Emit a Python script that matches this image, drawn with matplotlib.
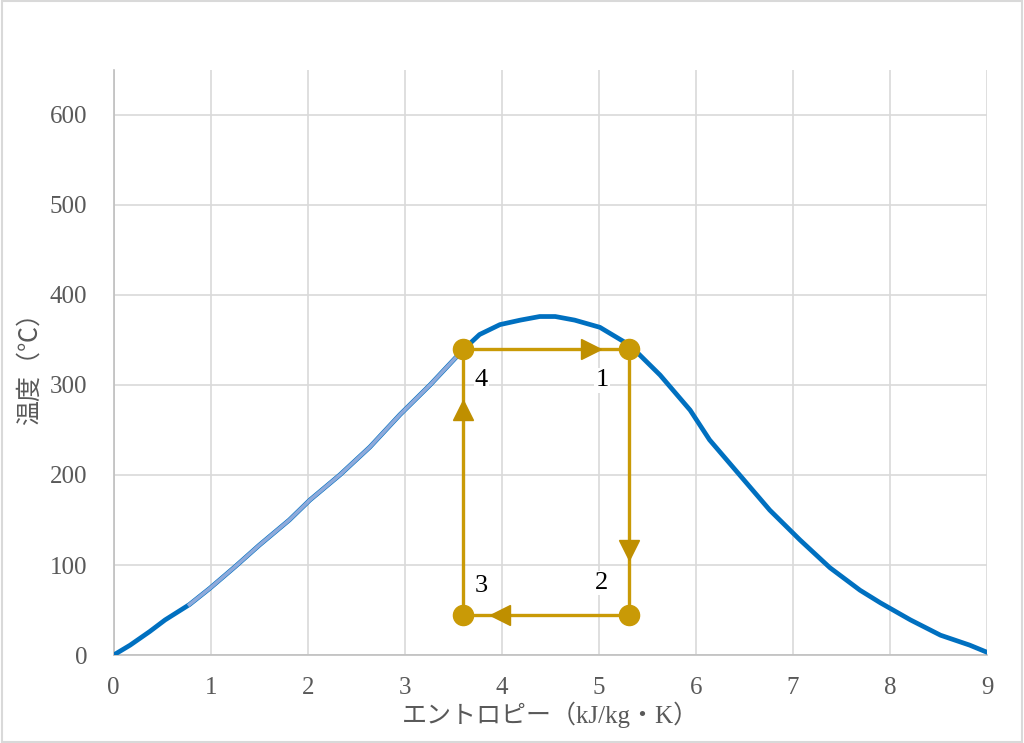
import numpy as np
import matplotlib.pyplot as plt
from matplotlib.patches import Rectangle

# saturation curve (entropy kJ/kgK, temperature C)
sat_s = [0, 0.17, 0.37, 0.53, 0.78, 0.99, 1.25, 1.5, 1.81, 2.02, 2.33, 2.64, 2.95, 3.26,
         3.6, 3.77, 3.98, 4.19, 4.39, 4.55, 4.75, 5.01, 5.32, 5.63, 5.94, 6.14, 6.45,
         6.76, 7.07, 7.38, 7.69, 7.9, 8.21, 8.52, 8.82, 9.0]
sat_t = [0, 11, 26, 39, 56, 74, 98, 122, 150, 172, 200, 231, 267, 300,
         339, 356, 367, 372, 376, 376, 372, 364, 344, 311, 272, 239, 200,
         161, 128, 97, 72, 58, 39, 22, 11, 3]

# cycle states 1..4
state_labels = ["1", "2", "3", "4"]
state_s = [5.31, 5.31, 3.6, 3.6]
state_t = [340, 45, 45, 340]
# where the state numbers sit
label_s = [5.03, 5.03, 3.79, 3.79]
label_t = [305, 80, 77, 305]

# direction arrows on each leg (s, T, marker)
arrow_s = [4.92, 5.31, 3.98, 3.6]
arrow_t = [340, 117, 45, 272]
arrow_mk = [">", "v", "<", "^"]

gold = "#c99a06"
blue = "#0070c0"
plt.rcParams["font.family"] = ["Liberation Serif", "Noto Sans CJK JP", "DejaVu Sans"]

fig = plt.figure(figsize=(10.24, 7.43), dpi=100)
ax = fig.add_axes([0.111, 0.1184, 0.853, 0.7876])
fig.patches.append(Rectangle((0.002, 0.002), 0.996, 0.996, transform=fig.transFigure,
                             fill=False, edgecolor="#d9d9d9", linewidth=1.5))

ax.plot(sat_s, sat_t, color=blue, linewidth=3.4, solid_capstyle="round", zorder=3)
# light highlighted stretch on the left branch
n_hi = sat_s.index(3.6) + 1
ax.plot(sat_s[4:n_hi], sat_t[4:n_hi], color="#8eaadb", linewidth=2.6, zorder=4)

cyc_s = state_s + [state_s[0]]
cyc_t = state_t + [state_t[0]]
ax.plot(cyc_s, cyc_t, color=gold, linewidth=2.4, zorder=5)
ax.plot(state_s, state_t, "o", color=gold, markersize=14.5, zorder=6)
for s, t, m in zip(arrow_s, arrow_t, arrow_mk):
    ax.plot(s, t, m, color="#bf8f00", markersize=15, zorder=6)

for lab, s, t in zip(state_labels, label_s, label_t):
    ax.text(s, t, lab, fontsize=19, color="black", ha="center", va="center", zorder=7,
            bbox=dict(facecolor="white", edgecolor="none", pad=1))

ax.set_xlim(0, 9)
ax.set_ylim(0, 650)
ax.set_xticks(range(0, 10))
ax.set_yticks(range(0, 700, 100))
ax.grid(True, color="#d9d9d9", linewidth=1.2)
ax.set_axisbelow(True)
for sp in ["top", "right"]:
    ax.spines[sp].set_visible(False)
for sp in ["left", "bottom"]:
    ax.spines[sp].set_color("#bfbfbf")
    ax.spines[sp].set_linewidth(1.2)
ax.tick_params(length=0, labelsize=18, labelcolor="#595959")
ax.tick_params(axis="x", pad=16)
ax.tick_params(axis="y", pad=19)

ax.set_xlabel("エントロピー（kJ/kg・K）", fontsize=18, color="#595959", labelpad=2)
ax.set_ylabel("温度（℃）", fontsize=18, color="#595959", labelpad=6)

fig.savefig("out.png", dpi=100)
